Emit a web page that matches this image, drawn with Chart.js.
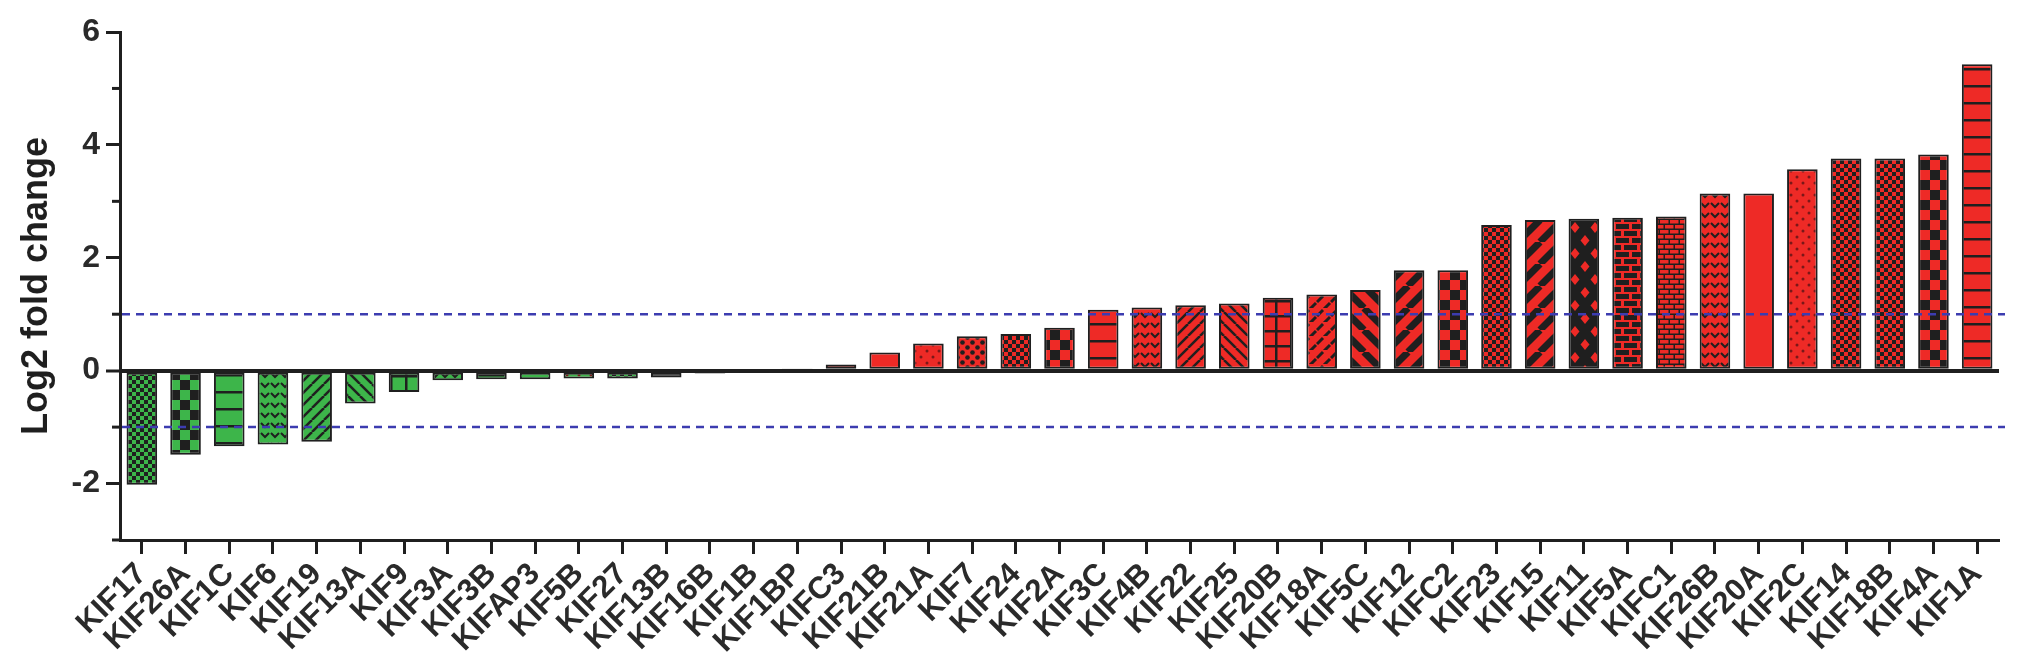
<!DOCTYPE html>
<html>
<head>
<meta charset="utf-8">
<script src="https://cdn.jsdelivr.net/npm/chart.js@4.4.1/dist/chart.umd.min.js"></script>
<style>
  html, body { margin: 0; padding: 0; background: #fff; }
  canvas { display: block; }
</style>
</head>
<body>
<canvas id="kifChart" width="2031" height="671"></canvas>
<script>
// gene names, left to right
const genes = [
  "KIF17", "KIF26A", "KIF1C", "KIF6", "KIF19", "KIF13A", "KIF9", "KIF3A", "KIF3B", "KIFAP3",
  "KIF5B", "KIF27", "KIF13B", "KIF16B", "KIF1B", "KIF1BP", "KIFC3", "KIF21B", "KIF21A", "KIF7",
  "KIF24", "KIF2A", "KIF3C", "KIF4B", "KIF22", "KIF25", "KIF20B", "KIF18A", "KIF5C", "KIF12",
  "KIFC2", "KIF23", "KIF15", "KIF11", "KIF5A", "KIFC1", "KIF26B", "KIF20A", "KIF2C", "KIF14",
  "KIF18B", "KIF4A", "KIF1A"
];

// log2 fold change per gene
const log2FoldChange = [
  -2.02, -1.49, -1.34, -1.31, -1.26, -0.58, -0.38, -0.17, -0.15, -0.15,
  -0.14, -0.14, -0.12, -0.05, -0.01, 0.01, 0.11, 0.32, 0.48, 0.61,
  0.65, 0.76, 1.08, 1.12, 1.16, 1.19, 1.29, 1.35, 1.43, 1.78,
  1.78, 2.58, 2.67, 2.69, 2.71, 2.73, 3.14, 3.14, 3.57, 3.76,
  3.76, 3.83, 5.43
];

// fold change cut-offs (dashed lines)
const thresholds = [1, -1];

// y axis range
const yMin = -3;
const yMax = 6;

// fill pattern of each bar
const barPatterns = [
  "fineCheck", "bigCheck", "hlines", "chevron", "diagUp", "diagDown", "grid", "chevron", "hlines", "solid",
  "sparseDots", "fineCheck", "hlines", "solid", "solid", "solid", "solid", "solid", "sparseDots", "dots",
  "fineCheck", "bigCheck", "hlines", "chevron", "diagUp", "diagDown", "grid", "weave", "thickDown", "thickUp",
  "bigCheck", "fineCheck", "thickUp", "diamond", "brick", "smallBrick", "chevron", "solid", "sparseDots", "fineCheck",
  "fineCheck", "bigCheck", "hlines"
];

const GREEN = "#3db54a";
const RED = "#ee2a26";
const INK = "#1f1f1f";

Chart.defaults.font.family = "'Liberation Sans', Arial, sans-serif";

// build a repeating fill for a bar
function makePattern(kind, base) {
  if (kind === "solid") return base;
  const c = document.createElement("canvas");
  const sizes = {
    fineCheck: [8, 8], dots: [10, 10], sparseDots: [12, 12], bigCheck: [20, 20],
    hlines: [10, 17], grid: [15, 15], diagUp: [12, 12], diagDown: [12, 12],
    thickUp: [22, 22], thickDown: [22, 22], chevron: [10, 10], weave: [14, 14],
    diamond: [20, 26], brick: [16, 14], smallBrick: [10, 10]
  };
  const [w, h] = sizes[kind];
  c.width = w; c.height = h;
  const g = c.getContext("2d");
  g.fillStyle = base;
  g.fillRect(0, 0, w, h);
  g.fillStyle = INK;
  g.strokeStyle = INK;

  const diag = (lw, up) => {
    g.lineWidth = lw;
    for (let k = -1; k <= 1; k++) {
      g.beginPath();
      if (up) { g.moveTo(k * w, h); g.lineTo(k * w + w, 0); }
      else { g.moveTo(k * w, 0); g.lineTo(k * w + w, h); }
      g.stroke();
    }
  };

  switch (kind) {
    case "fineCheck":
      g.fillRect(0, 0, 4, 4); g.fillRect(4, 4, 4, 4);
      break;
    case "dots":
      [[2.5, 2.5], [7.5, 7.5]].forEach(([x, y]) => { g.beginPath(); g.arc(x, y, 2.3, 0, Math.PI * 2); g.fill(); });
      break;
    case "sparseDots":
      g.fillStyle = "#7a1818";
      [[3, 3], [9, 9]].forEach(([x, y]) => { g.beginPath(); g.arc(x, y, 1.5, 0, Math.PI * 2); g.fill(); });
      break;
    case "bigCheck":
      g.fillRect(0, 0, 10, 10); g.fillRect(10, 10, 10, 10);
      break;
    case "hlines":
      g.fillRect(0, 0, w, 2.5);
      break;
    case "grid":
      g.fillRect(0, 0, w, 2.5); g.fillRect(0, 0, 2.5, h);
      break;
    case "diagUp": diag(2.5, true); break;
    case "diagDown": diag(2.5, false); break;
    case "thickUp": diag(7, true); break;
    case "thickDown": diag(7, false); break;
    case "chevron":
      g.lineWidth = 2;
      g.beginPath(); g.moveTo(1, 3); g.lineTo(5, 7); g.lineTo(9, 3); g.stroke();
      break;
    case "weave":
      g.lineWidth = 3;
      g.beginPath(); g.moveTo(1, 8); g.lineTo(7, 2); g.stroke();
      g.beginPath(); g.moveTo(8, 15); g.lineTo(14, 9); g.stroke();
      g.beginPath(); g.moveTo(-6, 15); g.lineTo(0, 9); g.stroke();
      break;
    case "diamond":
      g.fillStyle = INK; g.fillRect(0, 0, w, h);
      g.fillStyle = base;
      [[5, 6.5], [15, 19.5], [-5, 19.5], [25, 6.5]].forEach(([x, y]) => {
        g.beginPath(); g.moveTo(x, y - 5.5); g.lineTo(x + 4.5, y); g.lineTo(x, y + 5.5); g.lineTo(x - 4.5, y); g.closePath(); g.fill();
      });
      break;
    case "brick":
      g.fillRect(0, 0, 13, 5); g.fillRect(8, 7, 13, 5); g.fillRect(-8, 7, 13, 5);
      break;
    case "smallBrick":
      g.fillStyle = INK; g.fillRect(0, 0, w, h);
      g.fillStyle = base;
      g.fillRect(0, 0, 8.5, 3.5); g.fillRect(5, 5, 8.5, 3.5); g.fillRect(-5, 5, 8.5, 3.5);
      break;
  }
  return g.createPattern(c, "repeat");
}

const fills = log2FoldChange.map((v, i) => makePattern(barPatterns[i], v < 0 ? GREEN : RED));

// dashed cut-off lines and short odd ticks on the y axis
const decorPlugin = {
  id: "decor",
  afterDatasetsDraw(chart) {
    const { ctx, chartArea, scales } = chart;
    ctx.save();
    ctx.strokeStyle = "#3c3cb0";
    ctx.lineWidth = 2.5;
    ctx.setLineDash([8, 6]);
    thresholds.forEach(t => {
      const py = scales.y.getPixelForValue(t);
      ctx.beginPath();
      ctx.moveTo(chartArea.left + 2, py);
      ctx.lineTo(chartArea.right + 6, py);
      ctx.stroke();
    });
    ctx.setLineDash([]);
    ctx.strokeStyle = INK;
    ctx.lineWidth = 3;
    scales.y.ticks.forEach(t => {
      if (Math.abs(t.value) % 2 !== 1) return;
      const py = scales.y.getPixelForValue(t.value);
      ctx.beginPath();
      ctx.moveTo(chartArea.left - 8, py);
      ctx.lineTo(chartArea.left, py);
      ctx.stroke();
    });
    ctx.restore();
  }
};

new Chart(document.getElementById("kifChart").getContext("2d"), {
  type: "bar",
  data: {
    labels: genes,
    datasets: [{
      data: log2FoldChange,
      backgroundColor: fills,
      borderColor: INK,
      borderWidth: 2,
      borderSkipped: false,
      barPercentage: 0.7,
      categoryPercentage: 1.0
    }]
  },
  options: {
    responsive: false,
    animation: false,
    devicePixelRatio: 1,
    layout: { padding: { top: 32, right: 32, left: 0, bottom: 0 } },
    plugins: {
      legend: { display: false },
      tooltip: { enabled: false }
    },
    scales: {
      x: {
        offset: true,
        grid: {
          offset: false,
          drawOnChartArea: false,
          drawTicks: true,
          tickLength: 14,
          tickWidth: 3,
          tickColor: INK
        },
        border: { display: true, color: INK, width: 3 },
        ticks: {
          autoSkip: false,
          minRotation: 45,
          maxRotation: 45,
          padding: 2,
          color: "#2a2a2a",
          font: { size: 31, weight: "bold" }
        },
        afterFit: (scale) => { scale.height = 131; }
      },
      y: {
        min: yMin,
        max: yMax,
        grid: {
          drawTicks: true,
          tickLength: 14,
          tickWidth: 3,
          color: (c) => c.tick && c.tick.value === 0 ? INK : "rgba(0,0,0,0)",
          lineWidth: (c) => c.tick && c.tick.value === 0 ? 4 : 1,
          tickColor: (c) => c.tick && Math.abs(c.tick.value) % 2 === 0 ? INK : "rgba(0,0,0,0)"
        },
        border: { display: true, color: INK, width: 3 },
        ticks: {
          stepSize: 1,
          padding: 6,
          color: "#2a2a2a",
          font: { size: 32, weight: "bold" },
          callback: (v) => (Math.abs(v) % 2 === 0 ? v : "")
        },
        title: {
          display: true,
          text: "Log2 fold change",
          color: "#1f1f1f",
          font: { size: 36, weight: "bold" },
          padding: { top: 15, bottom: 0 }
        },
        afterFit: (scale) => { scale.width = 120; }
      }
    }
  },
  plugins: [decorPlugin]
});
</script>
</body>
</html>
